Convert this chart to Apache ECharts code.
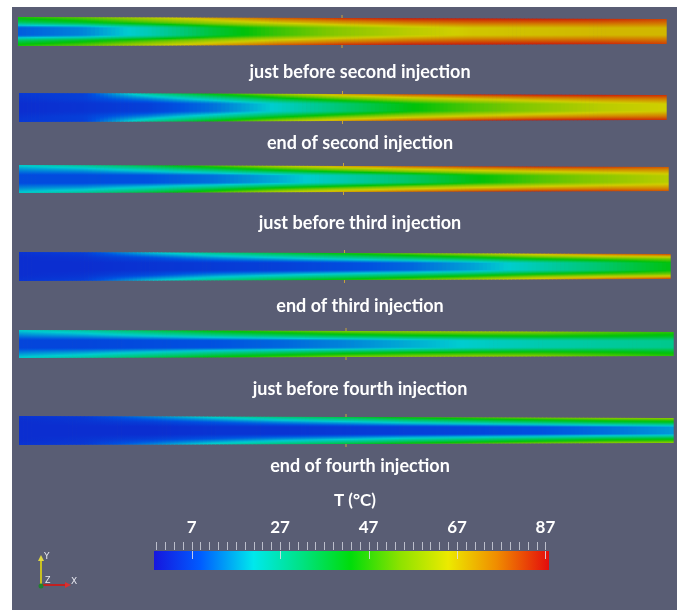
<!DOCTYPE html>
<html>
<head>
<meta charset="utf-8">
<script src="https://cdn.jsdelivr.net/npm/echarts@6/dist/echarts.min.js"></script>
<style>
  html, body { margin: 0; padding: 0; background: #ffffff; }
  #chart { width: 682px; height: 610px; }
</style>
</head>
<body>
<div id="chart"></div>
<script>
// Axial stations along each pipe (fraction of its length)
const stations = [0, 0.1, 0.2, 0.3, 0.4, 0.5, 0.6, 0.7, 0.8, 0.9, 1.0];

const snapshotLabels = [
  'just before second injection',
  'end of second injection',
  'just before third injection',
  'end of third injection',
  'just before fourth injection',
  'end of fourth injection'
];

// Temperatures (°C) at the wall, near the wall and on the axis, per station
const wallBefore2 = [46, 52, 62, 72, 80, 84, 86, 86, 86, 85, 82];
const nearBefore2 = [34, 40, 48, 57, 65, 71, 75, 77, 77, 77, 76];
const coreBefore2 = [10, 14, 24, 38, 48, 56, 62, 66, 67, 68, 68];

const wallEnd2 = [5, 6, 28, 44, 58, 72, 80, 84, 86, 86, 84];
const nearEnd2 = [4, 6, 14, 25, 38, 49, 58, 64, 69, 72, 74];
const coreEnd2 = [3, 4, 6, 12, 22, 32, 42, 50, 56, 62, 65];

const wallBefore3 = [22, 28, 38, 50, 62, 72, 78, 82, 84, 83, 80];
const nearBefore3 = [14, 16, 22, 30, 40, 48, 56, 62, 66, 69, 70];
const coreBefore3 = [8, 8, 9, 12, 18, 25, 33, 42, 50, 56, 62];

const wallEnd3 = [4, 6, 20, 30, 38, 45, 52, 60, 70, 78, 82];
const nearEnd3 = [3, 4, 8, 15, 20, 26, 32, 38, 45, 50, 54];
const coreEnd3 = [3, 3, 4, 5, 6, 8, 11, 17, 25, 33, 42];

const wallBefore4 = [22, 27, 36, 44, 50, 55, 57, 58, 56, 51, 47];
const nearBefore4 = [14, 17, 22, 28, 33, 37, 40, 42, 43, 42, 40];
const coreBefore4 = [7, 7, 8, 9, 11, 14, 18, 22, 25, 27, 29];

const wallEnd4 = [4, 5, 14, 24, 32, 38, 45, 50, 54, 57, 57];
const nearEnd4 = [3, 4, 6, 10, 15, 19, 24, 28, 32, 36, 38];
const coreEnd4 = [3, 3, 3, 4, 4, 5, 6, 7, 9, 12, 16];

const wallSeries = [wallBefore2, wallEnd2, wallBefore3, wallEnd3, wallBefore4, wallEnd4];
const nearSeries = [nearBefore2, nearEnd2, nearBefore3, nearEnd3, nearBefore4, nearEnd4];
const coreSeries = [coreBefore2, coreEnd2, coreBefore3, coreEnd3, coreBefore4, coreEnd4];

// Colour bar
const scaleTitle = 'T (°C)';
const tempMin = -1.5;
const tempMax = 87.8;
const majorTicks = [7, 27, 47, 67, 87];
const minorTicks = [-1, 1, 3, 5, 7, 9, 11, 13, 15, 17, 19, 21, 23, 25, 27, 29, 31, 33, 35, 37,
  39, 41, 43, 45, 47, 49, 51, 53, 55, 57, 59, 61, 63, 65, 67, 69, 71, 73, 75, 77, 79, 81, 83,
  85, 87];

// Rainbow colour map (temperature -> rgb)
const cmapT = [-1.5, 9, 21, 32, 43, 54, 65, 76, 87.8];
const cmapRGB = [
  [22, 22, 222], [0, 92, 255], [0, 232, 236], [0, 226, 130], [0, 220, 10],
  [140, 226, 0], [236, 234, 0], [240, 140, 0], [228, 12, 12]
];

function tempColor(t, shade) {
  let i = 0;
  if (t <= cmapT[0]) i = 0;
  else if (t >= cmapT[cmapT.length - 1]) i = cmapT.length - 2;
  else while (t > cmapT[i + 1]) i++;
  let u = (t - cmapT[i]) / (cmapT[i + 1] - cmapT[i]);
  u = Math.max(0, Math.min(1, u));
  const a = cmapRGB[i], b = cmapRGB[i + 1];
  const s = shade || 1;
  const c = [0, 1, 2].map(k => Math.round((a[k] + (b[k] - a[k]) * u) * s));
  return 'rgb(' + c[0] + ',' + c[1] + ',' + c[2] + ')';
}

// Pipe layout (pixels): left, right, top, height of inlet section
const pipeBoxes = [
  { left: 18, right: 666, top: 17, height: 29 },
  { left: 19, right: 666, top: 93, height: 29 },
  { left: 19, right: 668, top: 165, height: 28 },
  { left: 19, right: 670, top: 252, height: 29 },
  { left: 19, right: 673, top: 330, height: 28 },
  { left: 19, right: 673, top: 416, height: 29 }
];
const labelY = [72, 143, 223, 306, 389, 466];
const taper = 0.14;
const pipeShade = 0.88;

// Temperature profile across the pipe: d = distance from wall (0..0.5)
function profileT(d, w, n, c) {
  const kd = [0, 0.19, 0.36, 0.5];
  const kv = [w, n, c, c];
  for (let i = 0; i < kd.length - 1; i++) {
    if (d <= kd[i + 1]) {
      const u = (d - kd[i]) / (kd[i + 1] - kd[i]);
      return kv[i] + (kv[i + 1] - kv[i]) * u;
    }
  }
  return c;
}

function pipeGradient(w, n, c) {
  const stops = [];
  const N = 24;
  for (let s = 0; s <= N; s++) {
    const p = s / N;
    const d = Math.min(p, 1 - p);
    stops.push({ offset: p, color: tempColor(profileT(d, w, n, c), pipeShade) });
  }
  return { type: 'linear', x: 0, y: 0, x2: 0, y2: 1, colorStops: stops };
}

function renderPipe(params, api) {
  const f0 = api.value(0), f1 = api.value(1);
  const w0 = api.value(2), n0 = api.value(3), c0 = api.value(4);
  const w1 = api.value(5), n1 = api.value(6), c1 = api.value(7);
  const K = 16;
  const children = [];
  for (let j = 0; j < K; j++) {
    const ta = j / K, tb = (j + 1) / K, tm = (ta + tb) / 2;
    const fa = f0 + (f1 - f0) * ta, fb = f0 + (f1 - f0) * tb, fm = (fa + fb) / 2;
    const r = 1 - taper * fm;
    const pA = api.coord([fa, r]);
    const pB = api.coord([fb, -r]);
    const w = w0 + (w1 - w0) * tm, n = n0 + (n1 - n0) * tm, c = c0 + (c1 - c0) * tm;
    children.push({
      type: 'rect',
      shape: { x: pA[0], y: pA[1], width: pB[0] - pA[0] + 0.7, height: pB[1] - pA[1] },
      style: { fill: pipeGradient(w, n, c) }
    });
  }
  if (Math.abs(f0 - 0.5) < 1e-6) {
    const r = 1 - taper * f0;
    const top = api.coord([f0, r]);
    const bot = api.coord([f0, -r]);
    children.push({ type: 'line', shape: { x1: top[0], y1: top[1] - 3, x2: top[0], y2: top[1] },
      style: { stroke: '#c9a53a', lineWidth: 1 } });
    children.push({ type: 'line', shape: { x1: bot[0], y1: bot[1], x2: bot[0], y2: bot[1] + 3 },
      style: { stroke: '#c9a53a', lineWidth: 1 } });
  }
  return { type: 'group', children: children };
}

const grids = [], xAxes = [], yAxes = [], series = [];
pipeBoxes.forEach((b, k) => {
  grids.push({ left: b.left, width: b.right - b.left, top: b.top, height: b.height });
  xAxes.push({ gridIndex: k, type: 'value', min: 0, max: 1, show: false });
  yAxes.push({ gridIndex: k, type: 'value', min: -1, max: 1, show: false });
  const data = [];
  for (let i = 0; i < stations.length - 1; i++) {
    data.push([stations[i], stations[i + 1],
      wallSeries[k][i], nearSeries[k][i], coreSeries[k][i],
      wallSeries[k][i + 1], nearSeries[k][i + 1], coreSeries[k][i + 1]]);
  }
  series.push({
    type: 'custom', xAxisIndex: k, yAxisIndex: k,
    renderItem: renderPipe, data: data, silent: true,
    encode: { x: [0, 1], y: [] }
  });
});

// Colour bar grid
const cbIndex = pipeBoxes.length;
grids.push({ left: 154, width: 395, top: 551, height: 19 });
xAxes.push({
  gridIndex: cbIndex, type: 'value', position: 'top', min: tempMin, max: tempMax,
  axisLine: { show: false },
  splitLine: { show: false },
  axisTick: { show: false },
  axisLabel: { show: true, customValues: majorTicks, margin: 15, color: '#ffffff',
    fontFamily: 'Lato', fontWeight: 'bold', fontSize: 17 }
});
yAxes.push({ gridIndex: cbIndex, type: 'value', min: 0, max: 1, show: false });

series.push({
  type: 'custom', xAxisIndex: cbIndex, yAxisIndex: cbIndex, silent: true,
  data: [[tempMin, tempMax]],
  encode: { x: [0, 1], y: [] },
  renderItem: function (params, api) {
    const a = api.coord([api.value(0), 1]);
    const b = api.coord([api.value(1), 0]);
    const span = tempMax - tempMin;
    const stops = cmapT.map(t => ({ offset: (t - tempMin) / span, color: tempColor(t, 1) }));
    const children = [{
      type: 'rect', shape: { x: a[0], y: a[1], width: b[0] - a[0], height: b[1] - a[1] },
      style: { fill: { type: 'linear', x: 0, y: 0, x2: 1, y2: 0, colorStops: stops } }
    }];
    // minor ticks above the bar
    minorTicks.forEach(v => {
      const p = api.coord([v, 1]);
      const x = Math.round(p[0]) + 0.5;
      children.push({ type: 'line', shape: { x1: x, y1: p[1] - 9, x2: x, y2: p[1] - 1 },
        style: { stroke: 'rgba(205,207,218,0.85)', lineWidth: 1 } });
    });
    // major ticks reaching into the bar
    majorTicks.forEach(v => {
      const p = api.coord([v, 1]);
      const x = Math.round(p[0]) + 0.5;
      children.push({ type: 'line', shape: { x1: x, y1: p[1], x2: x, y2: p[1] + 8 },
        style: { stroke: 'rgba(225,225,232,0.85)', lineWidth: 1 } });
    });
    return { type: 'group', children: children };
  }
});

const textStyleBase = { fill: '#ffffff', fontFamily: 'Lato', fontWeight: 'bold', fontSize: 18 };
const graphics = [
  { type: 'rect', z: -10, shape: { x: 12, y: 7, width: 665, height: 603 },
    style: { fill: '#595d74' } }
];
snapshotLabels.forEach((t, k) => {
  graphics.push({ type: 'text', x: 360, y: labelY[k],
    style: Object.assign({ text: t, align: 'center', verticalAlign: 'middle' }, textStyleBase) });
});
graphics.push({ type: 'text', x: 355, y: 501,
  style: Object.assign({}, textStyleBase, { text: scaleTitle, align: 'center', verticalAlign: 'middle', fontSize: 17 }) });

// Orientation triad
graphics.push(
  { type: 'line', shape: { x1: 41, y1: 585, x2: 41, y2: 560 }, style: { stroke: '#c8c020', lineWidth: 2 } },
  { type: 'polygon', shape: { points: [[38, 561], [44, 561], [41, 555]] }, style: { fill: '#e0d840' } },
  { type: 'line', shape: { x1: 42, y1: 585, x2: 66, y2: 585 }, style: { stroke: '#c02020', lineWidth: 2 } },
  { type: 'polygon', shape: { points: [[65, 582], [65, 588], [71, 585]] }, style: { fill: '#d83030' } },
  { type: 'circle', shape: { cx: 41, cy: 586, r: 2.5 }, style: { fill: '#208030' } },
  { type: 'text', x: 44, y: 552, style: { text: 'Y', fill: '#e8e8f0', fontSize: 9, fontFamily: 'DejaVu Sans' } },
  { type: 'text', x: 45, y: 577, style: { text: 'Z', fill: '#e8e8f0', fontSize: 8, fontFamily: 'DejaVu Sans' } },
  { type: 'text', x: 71, y: 577, style: { text: 'X', fill: '#e8e8f0', fontSize: 9, fontFamily: 'DejaVu Sans' } }
);

const chart = echarts.init(document.getElementById('chart'), null, { renderer: 'canvas' });
chart.setOption({
  animation: false,
  backgroundColor: '#ffffff',
  grid: grids,
  xAxis: xAxes,
  yAxis: yAxes,
  series: series,
  graphic: graphics
});
</script>
</body>
</html>
